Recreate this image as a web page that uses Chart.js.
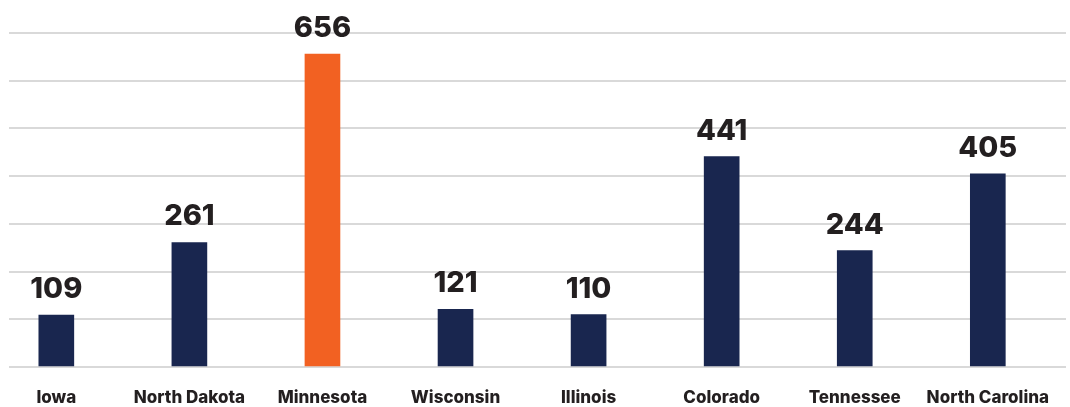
<!DOCTYPE html>
<html>
<head>
<meta charset="utf-8">
<script src="https://cdn.jsdelivr.net/npm/chart.js@4.4.1/dist/chart.umd.min.js"></script>
<style>
  html, body { margin: 0; padding: 0; background: #ffffff; }
  #wrap { width: 1070px; height: 407px; }
</style>
</head>
<body>
<div id="wrap"><canvas id="stateChart"></canvas></div>
<script>
/* =======================
   DATA
======================= */
const states = ["Iowa", "North Dakota", "Minnesota", "Wisconsin", "Illinois", "Colorado", "Tennessee", "North Carolina"];
const counts = [109, 261, 656, 121, 110, 441, 244, 405];
const highlight = "Minnesota";
const yTicks = [0, 100, 200, 300, 400, 500, 600, 700];

const NAVY = "#19264f";
const ORANGE = "#f26122";
const TEXT = "#231f20";

/* =======================
   VALUE LABELS ABOVE BARS
======================= */
const barValues = {
  id: "barValues",
  afterDatasetsDraw(chart) {
    const ctx = chart.ctx;
    const meta = chart.getDatasetMeta(0);
    ctx.save();
    ctx.font = "800 29px Inter";
    ctx.fillStyle = TEXT;
    ctx.textAlign = "center";
    ctx.textBaseline = "alphabetic";
    meta.data.forEach((bar, i) => {
      ctx.fillText(String(counts[i]), bar.x, bar.y - 17);
    });
    ctx.restore();
  }
};

/* =======================
   CHART
======================= */
new Chart(document.getElementById("stateChart"), {
  type: "bar",
  data: {
    datasets: [{
      data: states.map((s, i) => ({ x: i, y: counts[i] })),
      backgroundColor: states.map(s => s === highlight ? ORANGE : NAVY),
      barThickness: 35,
      borderWidth: 0
    }]
  },
  options: {
    responsive: true,
    maintainAspectRatio: false,
    animation: false,
    layout: { padding: { left: 9, right: 0, top: 33, bottom: 1 } },
    plugins: {
      legend: { display: false },
      tooltip: { enabled: false }
    },
    scales: {
      x: {
        type: "linear",
        offset: false,
        min: -0.3556,
        max: 7.5877,
        grid: { display: false, drawTicks: false },
        border: { display: false },
        afterBuildTicks: (axis) => {
          axis.ticks = states.map((s, i) => ({ value: i }));
        },
        afterFit: (axis) => { axis.height = 39; },
        ticks: {
          autoSkip: false,
          maxRotation: 0,
          padding: 21,
          color: TEXT,
          font: { family: "Inter", size: 17, weight: "800" },
          callback: (v) => states[v]
        }
      },
      y: {
        min: 0,
        max: 700,
        afterBuildTicks: (axis) => {
          axis.ticks = yTicks.map(v => ({ value: v }));
        },
        ticks: { display: false },
        grid: { color: "#d9d9d9", lineWidth: 2, drawTicks: false },
        border: { display: false }
      }
    }
  },
  plugins: [barValues]
});
</script>
</body>
</html>
